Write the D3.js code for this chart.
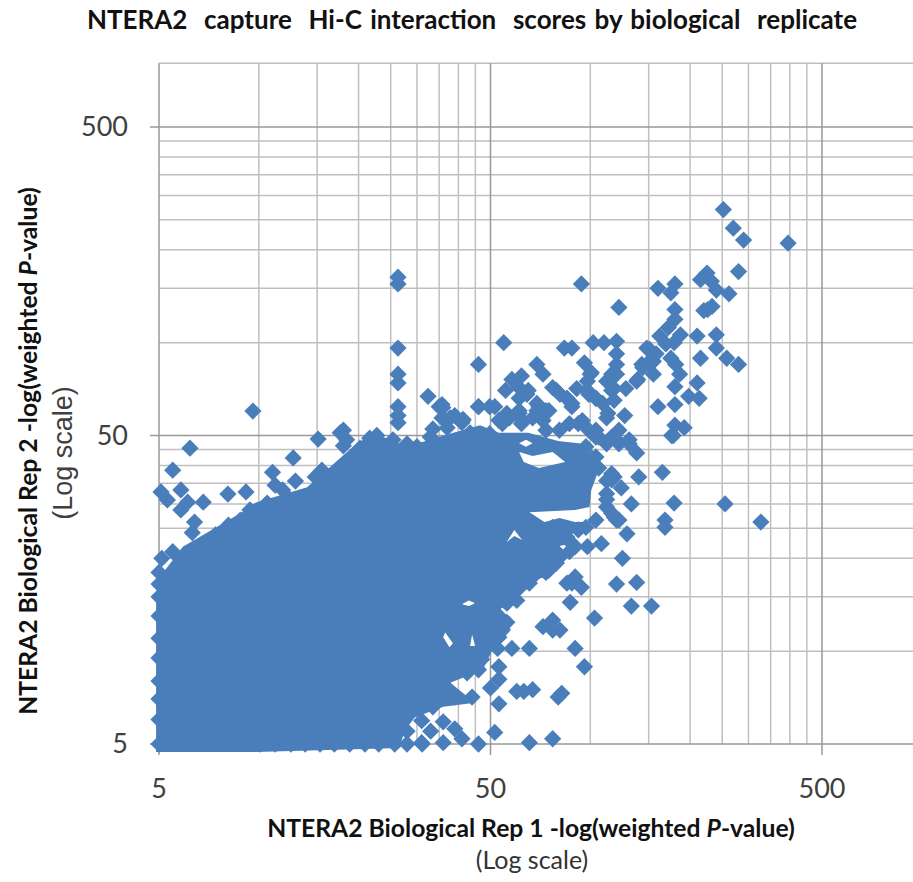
<!DOCTYPE html>
<html lang="en">

<head>
    <meta charset="UTF-8">
    <title>NTERA2 capture Hi-C interaction scores by biological replicate</title>
    <script src="https://d3js.org/d3.v7.min.js"></script>
    <style>
        body { margin: 0; background: white; }
        text { font-family: Lato, sans-serif; }
        .tick-label { font-size: 27px; fill: #404040; }
        .bold-label { font-weight: bold; font-size: 24.7px; fill: #111; }
        .sub-label { font-size: 25px; fill: #333; }
    </style>
</head>

<body>
    <svg width="913" height="882"></svg>

    <script>
        const majorTicks = [5, 50, 500];
        const minorTicks = [10, 15, 20, 25, 30, 35, 40, 45, 100, 150, 200, 250, 300, 350, 400, 450];
        const xAxisMax = 941;
        const yAxisMax = 805;

        // Rep 1 / Rep 2 pairs, sparse upper and right part
        const upperPoints = [
            [252, 270], [270, 235], [290, 215], [395, 210], [280, 170], [94, 155], [122, 130], [54.8, 100], [46, 85],
            [160, 150], [180, 155], [175, 145], [215, 160], [225, 168], [232, 158], [240, 148], [262, 144], [220, 127],
            [233, 131], [226, 128], [180, 128], [180, 119], [172, 112], [162, 105], [187, 106], [210, 105], [240, 106],
            [240, 96], [258, 89], [280, 85], [215, 89], [151, 95], [175, 89], [143, 85], [186, 79], [155, 79], [180, 72],
            [210, 74], [198, 67], [213, 66], [160, 62], [180, 63], [180, 54], [192, 53], [176, 50], [120, 101], [120, 92],
            [120, 85], [102, 100], [110, 100], [83.5, 96], [88, 96], [96, 86], [100, 79], [116, 79], [112, 75], [128, 71],
            [139, 76], [118, 71], [118, 65], [113, 59], [127, 58], [122, 52], [104, 66], [91, 71], [98, 70], [79, 70],
            [85, 66], [88, 62], [69, 85], [72, 79], [58, 76], [62, 78], [55.5, 70], [65, 70], [61, 66], [70, 62], [46, 62],
            [51.5, 62], [41, 55], [35.9, 61.6], [56, 59], [61, 59], [69, 60.2], [75, 60.2], [88, 63.5], [94.6, 55.9],
            [104, 52], [116, 49.4], [131, 47], [80.7, 52], [72, 55.9], [62, 54.6], [54.3, 54.6], [49.7, 50.7],
            [61, 71.5], [64.4, 68], [69, 63.5], [73.5, 60.2], [77, 71.5], [81, 68], [85, 66], [98, 75], [100.7, 80], [99, 68],
            [104, 66], [109, 63.5], [114, 75], [120, 79], [116, 70], [112, 57], [138, 75], [144, 83], [151, 87], [148, 96],
            [158, 92], [155, 87], [181, 85], [169, 99], [179, 100], [92, 54.6], [99, 52], [104, 49.4], [112, 47], [73.5, 52],
            [86.5, 54.6], [49.7, 62], [53, 56], [57, 57], [61, 60.2], [62.3, 56], [67, 57], [70, 60], [35, 62], [37.8, 57],
            [41.3, 56], [44, 49.4]
        ];

        const lowerRightPoints = [
            [178, 50], [138, 43.9], [165, 38], [140, 36.7], [118, 36.7], [124, 33.8], [179, 30.2], [133, 30], [255, 30],
            [327, 26.2], [168, 26.6], [168, 25.2], [129, 24], [120, 26.6], [112, 29.3], [112, 32.4], [108, 22.3], [98, 21.8],
            [125, 20], [86.5, 21], [75, 18.3], [120, 16.5], [138, 16.7], [88, 16.6], [94, 16.1], [85, 16.6], [90, 17.4],
            [133, 14], [153, 14], [87, 14.4], [103, 12.8], [65.5, 16.6], [60, 14.6], [77, 12.6], [72, 12], [77, 11.7],
            [81, 11.7], [56, 12.4], [50.7, 11.7], [53, 11.1], [65.5, 10.2], [58, 10.2], [52.5, 10.2], [90, 10.2], [96, 8.9],
            [53, 8.9], [53, 8.1], [50, 7.6], [60, 7.4], [63, 7.4], [67, 7.5], [80, 7.1], [82, 7.3], [53, 6.75], [44, 7.1],
            [39, 7.1], [51.5, 5.45], [65.5, 5.05], [77, 5.2], [46, 5], [41, 5.2], [39, 5.6], [36, 5.9], [36, 5.05], [31, 5.05],
            [33, 5.5], [28, 5.5], [104, 42.6], [97, 46], [120, 48.4], [106, 49.4], [92, 31], [86.5, 32.4], [116, 35.9],
            [118, 27.2], [104, 26.6], [92, 24.7], [81, 25.2], [77, 25.2], [88, 22.3], [72, 19.7], [79, 19.3], [73.5, 18],
            [58, 17.4], [61, 16], [47.4, 14.3], [56, 14.3], [112, 35.7], [116, 37.6], [112, 31], [116, 28], [122, 26.6],
            [106, 39.2], [101, 42.3], [131, 48.4], [122, 47], [47, 9.4], [46, 8.7], [42.5, 8.5], [37, 7.6], [35, 7.1], [33.5, 6.6],
            [31, 5.95], [48.7, 11.1], [53, 13], [47, 13], [58, 15.8], [67, 17.4], [70, 18.8], [81, 20.2], [90, 21.8], [85, 23.4],
            [97, 25.2]
        ];

        const upperLeftPoints = [
            [9.6, 60], [6.2, 45.5], [5.5, 38.6], [5.07, 32.8], [5.3, 30.9], [5.82, 33.3], [6.1, 30.4], [5.82, 28.7], [6.8, 30.4],
            [8.07, 32.3], [9.15, 32.8], [6.4, 26.2], [6.3, 24.2], [8.1, 25.6], [7.4, 23.8], [5.5, 21], [5.1, 20], [11, 38],
            [11.2, 34.5], [12.9, 35.6], [11.8, 33.3], [12.7, 42.3], [15.1, 48.7], [15.5, 38.6], [14.8, 36.7], [17.6, 51], [18, 52],
            [18.4, 48.4], [18, 46.3], [20.2, 45.5], [22.7, 50], [21.6, 49], [26.3, 163], [26.3, 155], [26.3, 96], [26.3, 79],
            [26.3, 74], [26.3, 62], [26.3, 58], [26.3, 55], [32.4, 67], [35.7, 63], [46, 62], [39, 58], [41.3, 56.4], [33.5, 52.5],
            [35.7, 57], [37, 53], [8.8, 26.6], [9.4, 28.7], [10.6, 30.2], [12.2, 31.6], [14.3, 32.5], [16.4, 35.9], [18, 39.5],
            [19.8, 42.6], [25.4, 48.4], [28, 47], [30, 46], [32.9, 49.4], [43.4, 51]
        ];

        const bottomEdgeRep1 = [10.1, 11.2, 12.5, 13.8, 15.3, 16.9, 18.8, 20.9, 23, 25.7, 28, 31.1];
        const leftEdgeRep2 = [5, 6, 7, 8, 9.5, 11, 13, 15, 16.5, 18];

        // The core is far too overplotted to read single points, so its outline is traced instead
        const coreOutline = [
            [4.9, 4.71], [4.9, 14.7], [4.95, 17], [5.9, 21.8], [8.8, 28], [9.8, 30.3], [14, 34], [19.2, 45.9], [22.1, 51], [28, 46],
            [35.2, 49.6], [46.5, 54], [53, 51], [65, 51], [80, 48], [95, 47], [106, 38.6], [100.7, 33.3], [99.5, 29.3], [90, 28.7],
            [65.5, 28.2], [72.7, 26.2], [80.7, 27], [90, 26.2], [100.7, 26.2], [90, 24.7], [83.5, 22.1], [80.7, 21.9], [85, 20.8],
            [79, 19], [75, 17.4], [65, 17], [61, 15], [53, 13.6], [57.6, 11.7], [50.7, 10.1], [47.4, 8.7], [37.8, 7.9], [44.9, 6.8],
            [36, 6.6], [29.6, 6.1], [27.6, 5.55], [26.7, 4.96], [26.7, 4.85], [9.8, 4.71]
        ];

        // Gaps inside the core where the grid shows through
        const coreGaps = [
            [[61, 44.2], [67, 42.9], [77, 44.2], [84, 41], [70, 39.2], [63, 41]],
            [[36.5, 11.5], [38.5, 10.6], [37.6, 10.3], [36, 11.1]],
            [[44, 11.3], [45, 10.4], [43.4, 10.4]],
            [[56, 22.6], [59, 24.7], [62.3, 22.9], [59, 23.6]],
            [[41, 14.2], [43, 14.6], [45, 14.3], [43, 14]],
            [[61, 47.2], [64, 48.4], [67, 47.2], [64, 46]]
        ];

        const blue = "#4a7ebb";

        const svg = d3.select("svg");

        const x = d3.scaleLog().domain([5, 500]).range([159, 822]);
        const y = d3.scaleLog().domain([5, 500]).range([744, 127]);

        const plotLeft = x(5), plotRight = x(xAxisMax), plotBottom = y(5), plotTop = y(yAxisMax);

        // grid
        svg.append("g").selectAll("line")
            .data(minorTicks.concat([yAxisMax]))
            .join("line")
            .attr("x1", plotLeft).attr("x2", plotRight)
            .attr("y1", d => y(d)).attr("y2", d => y(d))
            .attr("stroke", "#bfbfbf").attr("stroke-width", 1.5);

        svg.append("g").selectAll("line")
            .data(minorTicks)
            .join("line")
            .attr("x1", d => x(d)).attr("x2", d => x(d))
            .attr("y1", plotTop).attr("y2", plotBottom)
            .attr("stroke", "#bfbfbf").attr("stroke-width", 1.5);

        svg.append("g").selectAll("line")
            .data(majorTicks)
            .join("line")
            .attr("x1", plotLeft - 9).attr("x2", plotRight)
            .attr("y1", d => y(d)).attr("y2", d => y(d))
            .attr("stroke", "#999").attr("stroke-width", 1.5);

        svg.append("g").selectAll("line")
            .data(majorTicks)
            .join("line")
            .attr("x1", d => x(d)).attr("x2", d => x(d))
            .attr("y1", plotTop).attr("y2", plotBottom + 11)
            .attr("stroke", "#999").attr("stroke-width", 1.5);

        // dense core
        const line = d3.line().x(d => x(d[0])).y(d => y(d[1]));
        svg.append("path")
            .attr("d", [coreOutline].concat(coreGaps).map(r => line(r) + "Z").join(""))
            .attr("fill", blue)
            .attr("fill-rule", "evenodd");

        // points
        const points = upperPoints.concat(lowerRightPoints, upperLeftPoints,
            bottomEdgeRep1.map(v => [v, 5]),
            leftEdgeRep2.map(v => [5, v]));

        const diamond = d3.symbol(d3.symbolDiamond2, 190);
        svg.append("g").selectAll("path")
            .data(points)
            .join("path")
            .attr("d", diamond)
            .attr("transform", d => `translate(${x(d[0])},${y(d[1])})`)
            .attr("fill", blue);

        // tick labels
        svg.append("g").selectAll("text")
            .data(majorTicks)
            .join("text")
            .attr("class", "tick-label")
            .attr("x", d => x(d))
            .attr("y", 798)
            .attr("text-anchor", "middle")
            .text(d => d);

        svg.append("g").selectAll("text")
            .data(majorTicks)
            .join("text")
            .attr("class", "tick-label")
            .attr("x", 128)
            .attr("y", d => y(d))
            .attr("dy", "0.35em")
            .attr("text-anchor", "end")
            .text(d => d);

        // title
        svg.append("text")
            .attr("x", 472).attr("y", 29)
            .attr("text-anchor", "middle")
            .style("white-space", "pre")
            .style("font-weight", "bold")
            .style("font-size", "26px")
            .style("word-spacing", "2px")
            .style("fill", "#111")
            .text("NTERA2  capture  Hi-C interaction  scores by biological  replicate");

        // x label
        const xLabel = svg.append("text")
            .attr("class", "bold-label")
            .attr("x", 531).attr("y", 837)
            .attr("text-anchor", "middle");
        xLabel.append("tspan").text("NTERA2 Biological Rep 1 -log(weighted ");
        xLabel.append("tspan").style("font-style", "italic").text("P");
        xLabel.append("tspan").text("-value)");

        svg.append("text")
            .attr("class", "sub-label")
            .attr("x", 532).attr("y", 869)
            .attr("text-anchor", "middle")
            .text("(Log scale)");

        // y label
        const yLabel = svg.append("text")
            .attr("class", "bold-label")
            .attr("transform", "translate(37,451) rotate(-90)")
            .attr("text-anchor", "middle");
        yLabel.append("tspan").text("NTERA2 Biological Rep 2 -log(weighted ");
        yLabel.append("tspan").style("font-style", "italic").text("P");
        yLabel.append("tspan").text("-value)");

        svg.append("text")
            .attr("transform", "translate(72,453) rotate(-90)")
            .attr("text-anchor", "middle")
            .style("font-family", "'Liberation Sans', sans-serif")
            .style("font-size", "27px")
            .style("fill", "#404040")
            .text("(Log scale)");
    </script>
</body>

</html>
